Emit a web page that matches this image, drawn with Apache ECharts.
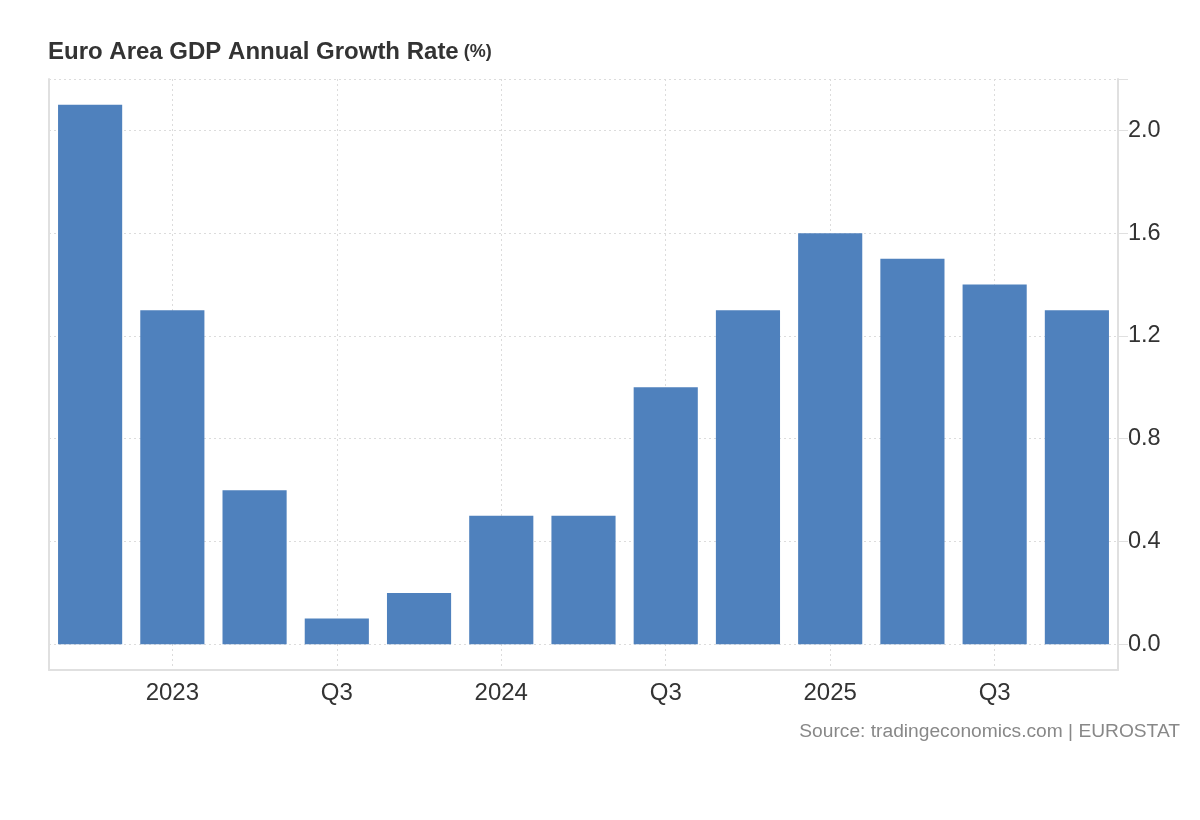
<!DOCTYPE html>
<html>
<head>
<meta charset="utf-8">
<script src="https://cdn.jsdelivr.net/npm/echarts@6/dist/echarts.min.js"></script>
<style>
html,body{margin:0;padding:0;background:#fff;}
#chart{width:1200px;height:820px;}
</style>
</head>
<body>
<div id="chart"></div>
<script>
const categories = ['Q4','2023','Q2','Q3','Q4','2024','Q2','Q3','Q4','2025','Q2','Q3','Q4'];
const values = [2.1, 1.3, 0.6, 0.1, 0.2, 0.5, 0.5, 1.0, 1.3, 1.6, 1.5, 1.4, 1.3];
const yTicks = [0, 0.4, 0.8, 1.2, 1.6, 2.0, 2.2];
const yLabels = [0, 0.4, 0.8, 1.2, 1.6, 2.0];

const chart = echarts.init(document.getElementById('chart'));
const labelFont = '"Liberation Sans", Arial, Helvetica, sans-serif';
chart.setOption({
  animation: false,
  backgroundColor: '#fff',
  title: {
    left: 48, top: 40, padding: 0,
    text: '{a|Euro Area GDP Annual Growth Rate} {b|(%)}',
    textStyle: {
      rich: {
        a: {fontFamily: labelFont, fontSize: 24, fontWeight: 'bold', color: '#333'},
        b: {fontFamily: labelFont, fontSize: 18, fontWeight: 'bold', color: '#333'}
      }
    }
  },
  graphic: [{
    type: 'text', right: 20, top: 722,
    style: {text: 'Source: tradingeconomics.com | EUROSTAT', fill: '#888', font: '19.2px ' + labelFont}
  }],
  grid: {left: 49, right: 82, top: 79, bottom: 150, containLabel: false, show: false},
  xAxis: {
    type: 'category',
    data: categories,
    axisLine: {show: true, onZero: false, lineStyle: {color: '#e0e0e0', width: 2}},
    axisTick: {show: false},
    axisLabel: {
      interval: function (i) { return i % 2 === 1; },
      color: '#333', fontSize: 24, fontFamily: labelFont, margin: 11
    },
    splitLine: {
      show: true,
      alignWithLabel: true,
      interval: function (i) { return i % 2 === 1; },
      lineStyle: {color: '#dcdcdc', type: [2, 3], width: 1}
    }
  },
  yAxis: [{
    type: 'value',
    position: 'right',
    min: -0.1, max: 2.2,
    axisLine: {show: true, lineStyle: {color: '#e0e0e0', width: 2}},
    axisTick: {show: true, length: 10, customValues: yTicks, lineStyle: {color: '#e0e0e0', width: 1}},
    axisLabel: {
      customValues: yLabels,
      color: '#333', fontSize: 23.5, fontFamily: labelFont, margin: 10,
      formatter: function (v) { return v.toFixed(1); }
    },
    splitLine: {show: true, lineStyle: {color: '#dcdcdc', type: [2, 3], width: 1}}
  }, {
    type: 'value',
    position: 'left',
    min: -0.1, max: 2.2,
    axisLine: {show: true, lineStyle: {color: '#e0e0e0', width: 2}},
    axisTick: {show: false},
    axisLabel: {show: false},
    splitLine: {show: false}
  }],
  series: [{
    type: 'bar',
    data: values,
    yAxisIndex: 0,
    barCategoryGap: '22%',
    itemStyle: {color: '#4f81bd'}
  }]
});
</script>
</body>
</html>
